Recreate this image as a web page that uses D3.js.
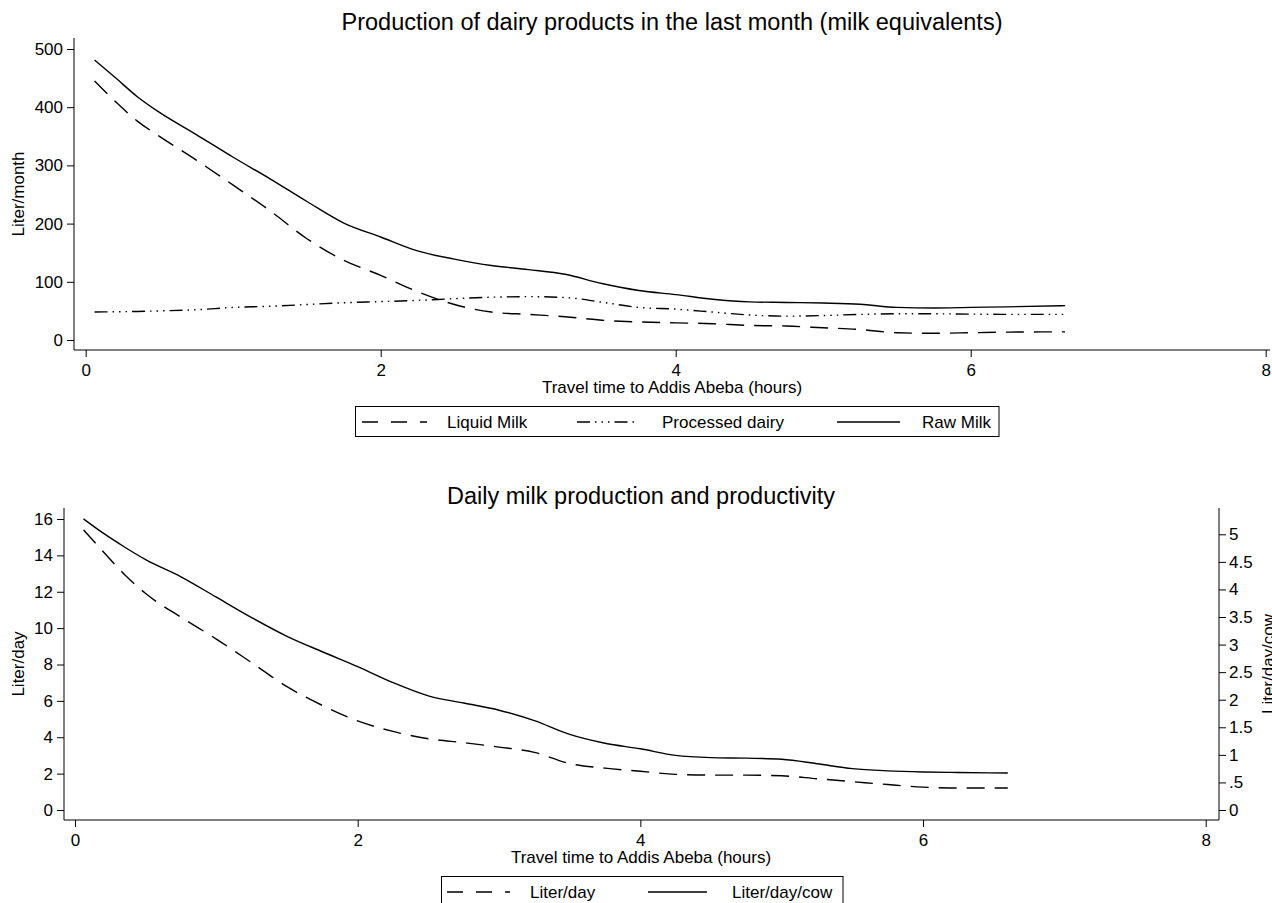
<!DOCTYPE html>
<html>
<head>
<meta charset="utf-8">
<script src="https://cdn.jsdelivr.net/npm/d3@7"></script>
<style>
  html, body { margin: 0; padding: 0; background: #fff; }
  svg text { font-family: "Liberation Sans", Arial, Helvetica, sans-serif; fill: #000; }
</style>
</head>
<body>
<svg id="chart" width="1272" height="903"></svg>
<script>
// ---------------- DATA ----------------
const topTitle = "Production of dairy products in the last month (milk equivalents)";
const bottomTitle = "Daily milk production and productivity";
const xTitle = "Travel time to Addis Abeba (hours)";

const xTicks = [0, 2, 4, 6, 8];
const topYTicks = [0, 100, 200, 300, 400, 500];
const bottomLeftTicks = [0, 2, 4, 6, 8, 10, 12, 14, 16];
const bottomRightTicks = [0, 0.5, 1, 1.5, 2, 2.5, 3, 3.5, 4, 4.5, 5];
const bottomRightTickLabels = ["0", ".5", "1", "1.5", "2", "2.5", "3", "3.5", "4", "4.5", "5"];

// Top panel (Liter/month)
const topHours = [0.06, 0.2, 0.35, 0.5, 0.75, 1.0, 1.25, 1.5, 1.75, 2.0, 2.25, 2.5, 2.75, 3.0,
                  3.25, 3.5, 3.75, 4.0, 4.25, 4.5, 4.75, 5.0, 5.25, 5.5, 5.75, 6.0, 6.25, 6.64];
const liquidMilk = [445, 410, 376, 350, 309, 266, 222, 174, 137, 111, 83, 61, 48, 44,
                    40, 34, 31, 29.5, 28, 25, 24, 21, 18, 12.5, 11.5, 12.5, 13.5, 14];
const processedDairy = [48, 48.5, 49, 50, 52, 56, 58, 61, 64, 66, 68, 71, 73.5, 74.5,
                        73, 65, 56, 53, 48, 43, 41, 42, 44, 45, 45, 44.5, 44, 44];
const rawMilk = [481, 451, 418, 391, 353, 314, 277, 238, 201, 177, 153, 139, 128, 121,
                 113, 97, 85, 78, 70, 65.5, 64.5, 63.5, 61.5, 56, 55, 56, 57, 59];

// Bottom panel
const bottomHours = [0.06, 0.2, 0.35, 0.5, 0.75, 1.0, 1.25, 1.5, 1.75, 2.0, 2.25, 2.5, 2.75, 3.0,
                     3.25, 3.5, 3.75, 4.0, 4.25, 4.5, 4.75, 5.0, 5.25, 5.5, 5.75, 6.0, 6.25, 6.6];
const literPerDay = [15.4, 14.2, 12.95, 11.9, 10.6, 9.4, 8.1, 6.78, 5.75, 4.9, 4.32, 3.92, 3.7, 3.46,
                     3.17, 2.55, 2.3, 2.13, 1.96, 1.92, 1.92, 1.88, 1.72, 1.56, 1.4, 1.26, 1.21, 1.21];
const literPerDayPerCow = [5.28, 5.02, 4.77, 4.54, 4.23, 3.86, 3.49, 3.15, 2.87, 2.6, 2.31, 2.07, 1.94, 1.81,
                           1.62, 1.37, 1.21, 1.11, 0.99, 0.95, 0.94, 0.92, 0.84, 0.75, 0.71, 0.69, 0.68, 0.67];

// ---------------- STYLES ----------------
const FS = 17;
const dashLong = "18,10";
const dashDotDot = "13,5,1.5,5,1.5,5,1.5,5";
const LW = 1.4;

const svg = d3.select("#chart");
svg.append("rect").attr("width", 1272).attr("height", 903).attr("fill", "#fff");

function styleAxis(g) {
  g.selectAll("path, line").attr("stroke", "#000").attr("stroke-width", 1);
  g.selectAll("text").style("font-size", FS + "px").attr("fill", "#000");
}

function drawLegend(box, items) {
  const g = svg.append("g");
  g.append("rect").attr("x", box.x).attr("y", box.y).attr("width", box.w).attr("height", box.h)
    .attr("fill", "#fff").attr("stroke", "#000").attr("stroke-width", 1);
  const ly = box.y + 15.5;
  items.forEach(it => {
    g.append("line").attr("x1", it.x1).attr("x2", it.x2).attr("y1", ly).attr("y2", ly)
      .attr("stroke", "#000").attr("stroke-width", LW)
      .attr("stroke-dasharray", it.dash || null);
    g.append("text").attr("x", it.tx).attr("y", box.y + 21.8).style("font-size", FS + "px").text(it.label);
  });
}

// ---------------- TOP PANEL ----------------
{
  const x = d3.scaleLinear().domain([0, 8]).range([85.7, 1265.7]);
  const y = d3.scaleLinear().domain([0, 500]).range([340, 49]);
  const axisY = 350, leftX = 74;

  const gx = svg.append("g").attr("transform", `translate(0,${axisY})`)
    .call(d3.axisBottom(x).tickValues(xTicks).tickFormat(d3.format("d")).tickSize(7).tickSizeOuter(0).tickPadding(7));
  gx.select(".domain").attr("d", `M${leftX},0H1270`);
  styleAxis(gx);

  const gy = svg.append("g").attr("transform", `translate(${leftX},0)`)
    .call(d3.axisLeft(y).tickValues(topYTicks).tickFormat(d3.format("d")).tickSize(7).tickSizeOuter(0).tickPadding(4));
  gy.select(".domain").attr("d", `M0,38V${axisY}`);
  styleAxis(gy);

  svg.append("text").attr("x", 672).attr("y", 30).attr("text-anchor", "middle")
    .style("font-size", "23.5px").text(topTitle);
  svg.append("text").attr("x", 672).attr("y", 393).attr("text-anchor", "middle")
    .style("font-size", FS + "px").text(xTitle);
  svg.append("text").attr("transform", "translate(24,194) rotate(-90)").attr("text-anchor", "middle")
    .style("font-size", FS + "px").text("Liter/month");

  const series = [
    { vals: liquidMilk, dash: dashLong },
    { vals: processedDairy, dash: dashDotDot },
    { vals: rawMilk, dash: null }
  ];
  series.forEach(s => {
    const line = d3.line().x((d, i) => x(topHours[i])).y(d => y(d)).curve(d3.curveMonotoneX);
    svg.append("path").datum(s.vals).attr("d", line).attr("fill", "none")
      .attr("stroke", "#000").attr("stroke-width", LW).attr("stroke-dasharray", s.dash);
  });

  drawLegend({ x: 355.5, y: 406.5, w: 643.5, h: 30 }, [
    { x1: 362, x2: 427, tx: 447, label: "Liquid Milk", dash: "16,13" },
    { x1: 577, x2: 638, tx: 662, label: "Processed dairy", dash: dashDotDot },
    { x1: 837, x2: 900, tx: 922, label: "Raw Milk", dash: null }
  ]);
}

// ---------------- BOTTOM PANEL ----------------
{
  const x = d3.scaleLinear().domain([0, 8]).range([75, 1205.7]);
  const yL = d3.scaleLinear().domain([0, 16]).range([810, 519]);
  const yR = d3.scaleLinear().domain([0, 5]).range([810, 534.3]);
  const axisY = 820, leftX = 64, rightX = 1219, topY = 508;

  const gx = svg.append("g").attr("transform", `translate(0,${axisY})`)
    .call(d3.axisBottom(x).tickValues(xTicks).tickFormat(d3.format("d")).tickSize(7).tickSizeOuter(0).tickPadding(7));
  gx.select(".domain").attr("d", `M${leftX},0H${rightX}`);
  styleAxis(gx);

  const gyl = svg.append("g").attr("transform", `translate(${leftX},0)`)
    .call(d3.axisLeft(yL).tickValues(bottomLeftTicks).tickFormat(d3.format("d")).tickSize(7).tickSizeOuter(0).tickPadding(4));
  gyl.select(".domain").attr("d", `M0,${topY}V${axisY}`);
  styleAxis(gyl);

  const gyr = svg.append("g").attr("transform", `translate(${rightX},0)`)
    .call(d3.axisRight(yR).tickValues(bottomRightTicks).tickFormat((d, i) => bottomRightTickLabels[i]).tickSize(7).tickSizeOuter(0).tickPadding(3));
  gyr.select(".domain").attr("d", `M0,${topY}V${axisY}`);
  styleAxis(gyr);

  svg.append("text").attr("x", 641).attr("y", 504).attr("text-anchor", "middle")
    .style("font-size", "23.5px").text(bottomTitle);
  svg.append("text").attr("x", 641).attr("y", 863).attr("text-anchor", "middle")
    .style("font-size", FS + "px").text(xTitle);
  svg.append("text").attr("transform", "translate(24,664) rotate(-90)").attr("text-anchor", "middle")
    .style("font-size", FS + "px").text("Liter/day");
  svg.append("text").attr("transform", "translate(1274,664) rotate(-90)").attr("text-anchor", "middle")
    .style("font-size", FS + "px").text("Liter/day/cow");

  const lineL = d3.line().x((d, i) => x(bottomHours[i])).y(d => yL(d)).curve(d3.curveMonotoneX);
  const lineR = d3.line().x((d, i) => x(bottomHours[i])).y(d => yR(d)).curve(d3.curveMonotoneX);
  svg.append("path").datum(literPerDay).attr("d", lineL).attr("fill", "none")
    .attr("stroke", "#000").attr("stroke-width", LW).attr("stroke-dasharray", dashLong);
  svg.append("path").datum(literPerDayPerCow).attr("d", lineR).attr("fill", "none")
    .attr("stroke", "#000").attr("stroke-width", LW);

  drawLegend({ x: 441.5, y: 876.5, w: 401.5, h: 30 }, [
    { x1: 447, x2: 510, tx: 530, label: "Liter/day", dash: "16,13" },
    { x1: 648, x2: 707, tx: 732, label: "Liter/day/cow", dash: null }
  ]);
}
</script>
</body>
</html>
